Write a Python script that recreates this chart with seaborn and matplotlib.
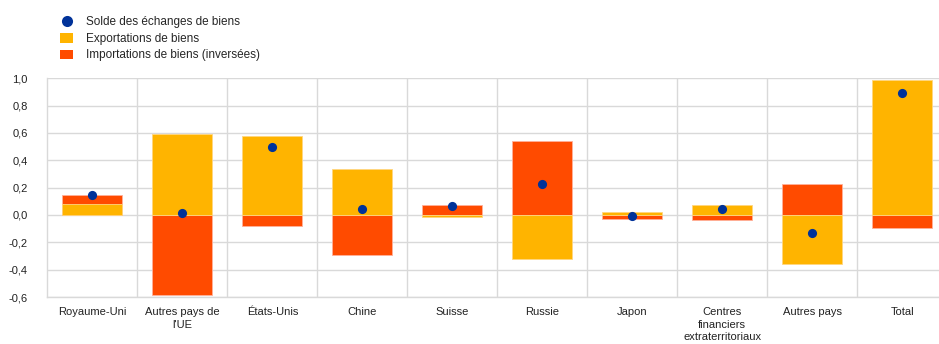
import numpy as np
import pandas as pd
import matplotlib
matplotlib.use("Agg")
import matplotlib.pyplot as plt
from matplotlib.lines import Line2D
from matplotlib.patches import Patch
import seaborn as sns

categories = ["Royaume-Uni", "Autres pays de\nl'UE", "États-Unis", "Chine", "Suisse",
              "Russie", "Japon", "Centres\nfinanciers\nextraterritoriaux", "Autres pays", "Total"]
exports = [0.078, 0.595, 0.576, 0.337, -0.012, -0.322, 0.020, 0.073, -0.361, 0.990]
imports_inv = [0.066, -0.583, -0.083, -0.290, 0.073, 0.541, -0.030, -0.034, 0.227, -0.098]
balance = [0.144, 0.012, 0.495, 0.046, 0.063, 0.224, -0.005, 0.044, -0.132, 0.893]
yticks = [-0.6, -0.4, -0.2, 0.0, 0.2, 0.4, 0.6, 0.8, 1.0]

YELLOW = "#FFB400"
RED = "#FF4B00"
BLUE = "#003299"
GRID = "#d9d9d9"

sns.set_theme(style="white")
plt.rcParams["font.family"] = ["Liberation Sans", "DejaVu Sans"]

df = pd.DataFrame({"cat": categories, "exp": exports, "imp": imports_inv, "bal": balance})
# sign-wise stacking: imports stacked on exports when both share the same sign
same = np.sign(df["exp"]) == np.sign(df["imp"])
df["imp_top"] = df["imp"] + np.where(same, df["exp"], 0.0)

fig = plt.figure(figsize=(9.39, 3.44), dpi=100)
ax = fig.add_axes([0.0504, 0.1366, 1.0 - 0.0504, 0.7724 - 0.1366])

sns.barplot(data=df, x="cat", y="imp_top", color=RED, saturation=1, width=60/90,
            edgecolor="#ffb09a", linewidth=0.6, ax=ax, zorder=2)
sns.barplot(data=df, x="cat", y="exp", color=YELLOW, saturation=1, width=60/90,
            edgecolor="#ffd680", linewidth=0.6, ax=ax, zorder=2)
sns.stripplot(data=df, x="cat", y="bal", jitter=False, color=BLUE, size=6.6,
              linewidth=0, ax=ax, zorder=4)

ax.set_ylim(-0.6, 1.0)
ax.set_xlim(-0.5, 9.408)
ax.set_yticks(yticks)
ax.set_yticklabels([f"{v:.1f}".replace(".", ",") for v in yticks], fontsize=8, color="#222222")
ax.set_xticks(range(len(categories)))
ax.set_xticklabels(categories, fontsize=8, color="#222222", linespacing=1.35)
ax.set_xticks(np.arange(0.5, 9.0, 1.0), minor=True)
ax.tick_params(axis="x", which="both", length=0, pad=7)
ax.tick_params(axis="y", length=0, pad=14)
for lab in ax.get_yticklabels():
    lab.set_horizontalalignment("right")

ax.grid(axis="y", color=GRID, linewidth=1, zorder=0)
ax.grid(axis="x", which="minor", color=GRID, linewidth=1, zorder=0)
ax.set_axisbelow(True)
ax.set_xlabel("")
ax.set_ylabel("")
for s in ["top", "right"]:
    ax.spines[s].set_visible(False)
for s in ["left", "bottom"]:
    ax.spines[s].set_color(GRID)
    ax.spines[s].set_linewidth(1)

handles = [
    Line2D([], [], marker="o", linestyle="none", markersize=8, color=BLUE,
           markeredgewidth=0),
    Patch(facecolor=YELLOW, edgecolor="none"),
    Patch(facecolor=RED, edgecolor="none"),
]
labels = ["Solde des échanges de biens", "Exportations de biens",
          "Importations de biens (inversées)"]
fig.legend(handles, labels, loc="upper left", bbox_to_anchor=(0.0594, 0.966),
           frameon=False, fontsize=8.5, handlelength=1.1, handleheight=0.85,
           handletextpad=1.1, labelspacing=0.38, borderaxespad=0)

fig.savefig("out.png", dpi=100)
